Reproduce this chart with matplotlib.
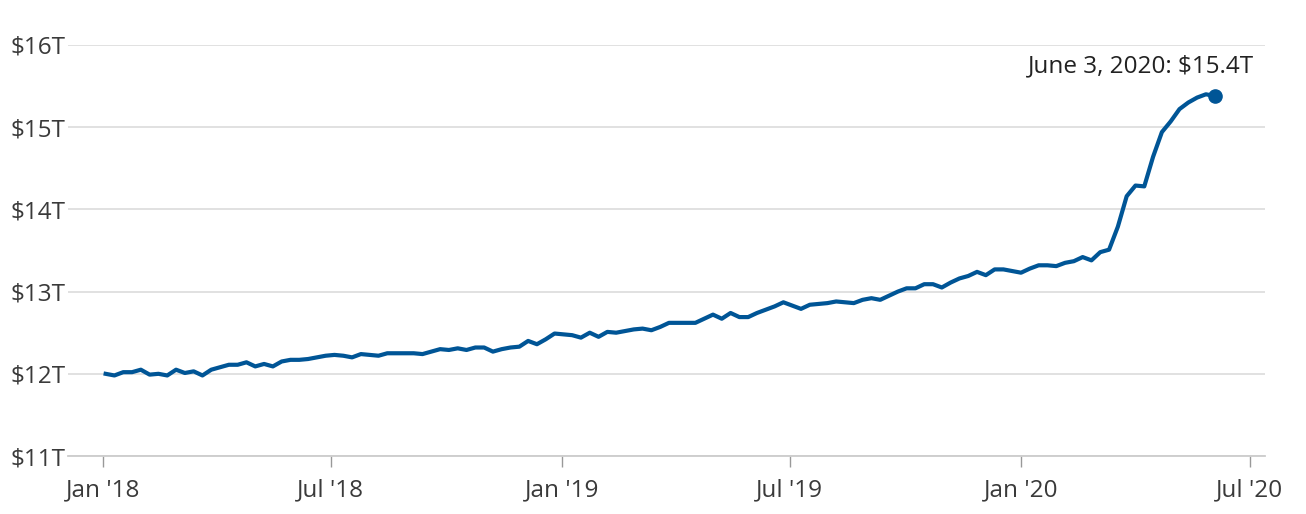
import matplotlib
matplotlib.use("Agg")
import matplotlib.pyplot as plt
import pandas as pd

# weekly totals, trillions of dollars (Wednesdays, Jan 3 2018 -> Jun 3 2020)
dates = pd.date_range("2018-01-03", "2020-06-03", freq="7D")
values = [
    12.00, 11.98, 12.02, 12.02, 12.05, 11.99, 12.00, 11.98, 12.05, 12.01,
    12.03, 11.98, 12.05, 12.08, 12.11, 12.11, 12.14, 12.09, 12.12, 12.09,
    12.15, 12.17, 12.17, 12.18, 12.20, 12.22, 12.23, 12.22, 12.20, 12.24,
    12.23, 12.22, 12.25, 12.25, 12.25, 12.25, 12.24, 12.27, 12.30, 12.29,
    12.31, 12.29, 12.32, 12.32, 12.27, 12.30, 12.32, 12.33, 12.40, 12.36,
    12.42, 12.49, 12.48, 12.47, 12.44, 12.50, 12.45, 12.51, 12.50, 12.52,
    12.54, 12.55, 12.53, 12.57, 12.62, 12.62, 12.62, 12.62, 12.67, 12.72,
    12.67, 12.74, 12.69, 12.69, 12.74, 12.78, 12.82, 12.87, 12.83, 12.79,
    12.84, 12.85, 12.86, 12.88, 12.87, 12.86, 12.90, 12.92, 12.90, 12.95,
    13.00, 13.04, 13.04, 13.09, 13.09, 13.05, 13.11, 13.16, 13.19, 13.24,
    13.20, 13.27, 13.27, 13.25, 13.23, 13.28, 13.32, 13.32, 13.31, 13.35,
    13.37, 13.42, 13.38, 13.48, 13.51, 13.79, 14.16, 14.29, 14.28, 14.64,
    14.94, 15.07, 15.22, 15.30, 15.36, 15.40, 15.38,
]
y_ticks = [11, 12, 13, 14, 15, 16]
x_tick_dates = pd.to_datetime(["2018-01-01", "2018-07-01", "2019-01-01",
                               "2019-07-01", "2020-01-01", "2020-07-01"])
x_tick_labels = ["Jan '18", "Jul '18", "Jan '19", "Jul '19", "Jan '20", "Jul '20"]
label = "June 3, 2020: $15.4T"

plt.rcParams['font.family'] = ['Open Sans', 'DejaVu Sans']
blue = '#005596'
txt = '#3a3a3a'
fs = 17.5

fig = plt.figure(figsize=(13.06, 5.14), dpi=100)
ax = fig.add_axes([0.052, 0.1128, 0.9166, 0.7997])

ax.plot(dates, values, color=blue, lw=3, solid_joinstyle='round', zorder=3)
ax.plot(dates[-1], values[-1], 'o', color=blue, ms=9.5, zorder=4)
ax.annotate(label, (dates[-1], values[-1]), xytext=(28.5, 21),
            textcoords='offset points', ha='right', va='center',
            fontsize=fs, color='#222222')

ax.set_ylim(11, 16)
ax.set_xlim(pd.Timestamp("2017-12-04"), pd.Timestamp("2020-07-13"))
ax.set_yticks(y_ticks)
ax.set_yticklabels([f"${t}T" for t in y_ticks])
ax.set_xticks(x_tick_dates)
ax.set_xticklabels(x_tick_labels)

ax.grid(axis='y', color='#d9d9d9', lw=1.1)
ax.set_axisbelow(True)
for s in ['top', 'right', 'left']:
    ax.spines[s].set_visible(False)
ax.spines['bottom'].set_color('#cccccc')
ax.spines['bottom'].set_linewidth(1.3)

ax.tick_params(axis='y', length=0, pad=2, labelsize=fs, labelcolor=txt)
ax.tick_params(axis='x', length=8, width=1, color='#999999', direction='out',
               pad=8, labelsize=fs, labelcolor=txt)

fig.savefig("out.png", dpi=100)
